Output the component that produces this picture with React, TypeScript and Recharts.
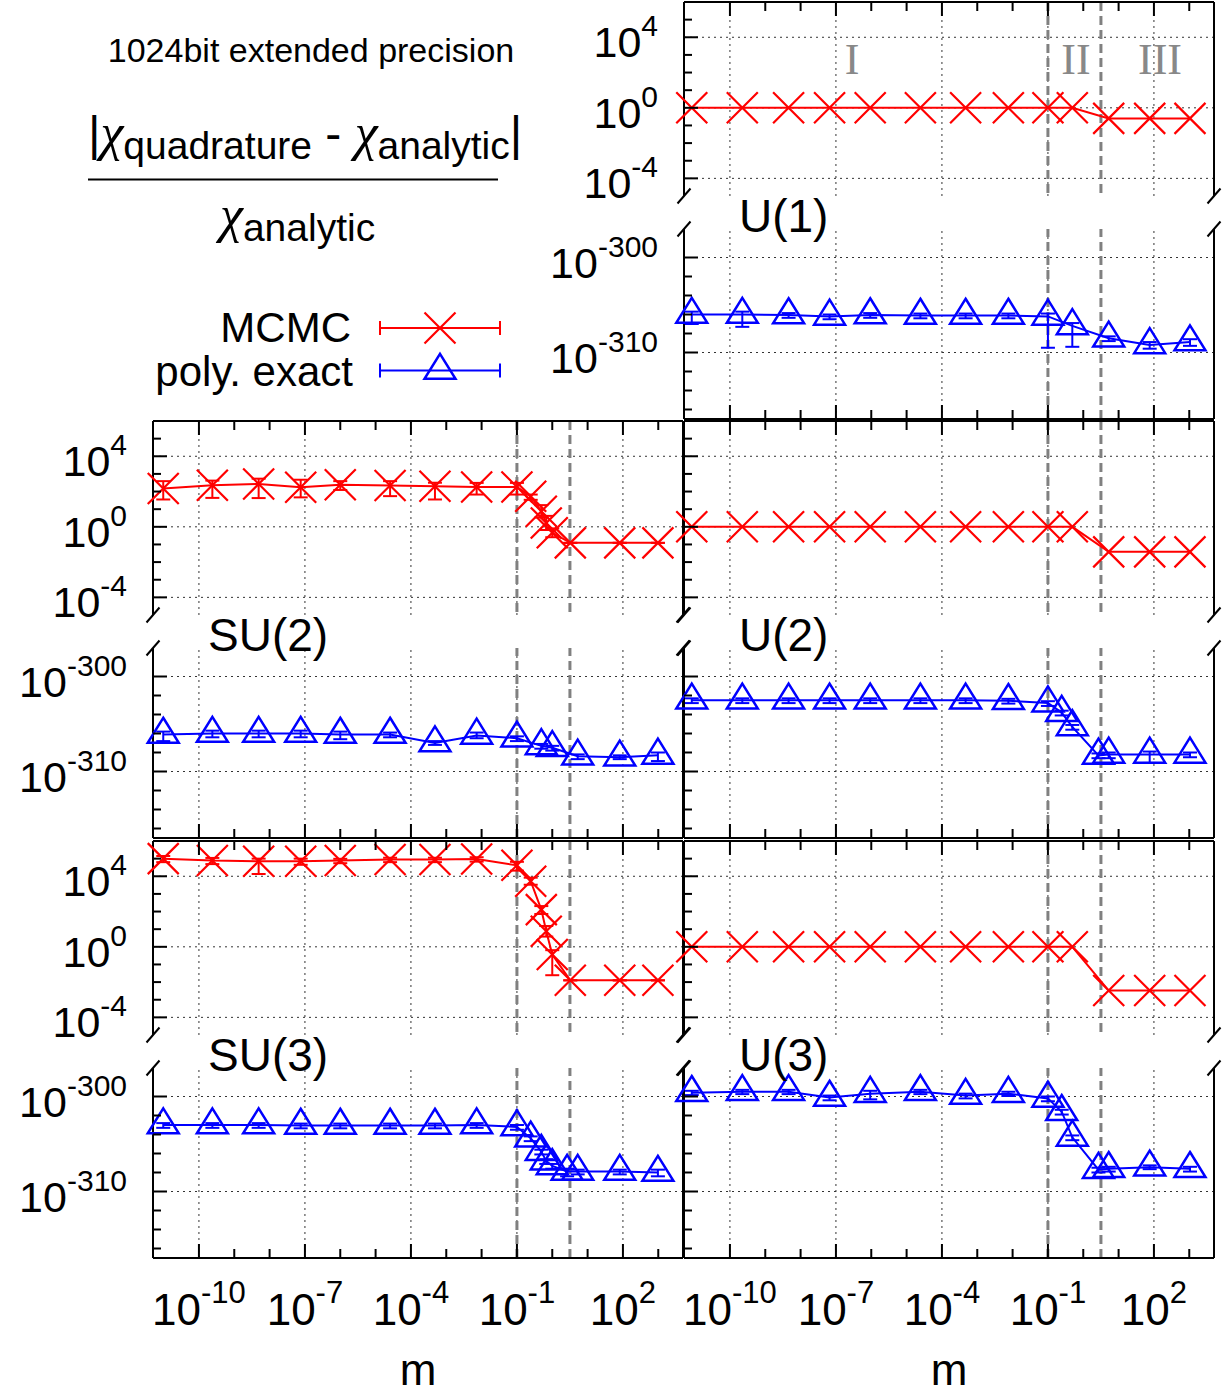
import React from "react";
import { LineChart, Line, XAxis, YAxis, ReferenceLine, ErrorBar } from "recharts";

const FONT = "'Liberation Sans', Arial, Helvetica, sans-serif";
const SERIF = "'Liberation Serif', 'Times New Roman', serif";
const RED = "#ff0000";
const BLUE = "#0000ff";
const GRAY = "#808080";

// x: log10(m)
const M_SU = [-11.01, -9.62, -8.31, -7.12, -6.0, -4.59, -3.32, -2.14, -1.0, -0.61, -0.31, -0.17, 0.0, 0.51, 1.91, 2.99];
const M_SU2_POLY = [-11.01, -9.62, -8.31, -7.12, -6.0, -4.59, -3.32, -2.14, -1.0, -0.31, 0.0, 0.72, 1.91, 2.99];
const M_SU3_POLY = [-11.01, -9.62, -8.31, -7.12, -6.0, -4.59, -3.32, -2.14, -1.0, -0.61, -0.31, -0.17, 0.0, 0.42, 0.72, 1.91, 2.99];
const M_U = [-11.08, -9.65, -8.34, -7.18, -6.03, -4.61, -3.33, -2.12, -1.0, -0.31, 0.72, 1.88, 3.02];
const M_U_POLY = [-11.08, -9.65, -8.34, -7.18, -6.03, -4.61, -3.33, -2.12, -1.0, -0.61, -0.31, 0.43, 0.72, 1.88, 3.02];

// y: log10 of relative deviation, errors as [down, up] in decades
const U1_MCMC = [0, 0, 0, 0, 0, 0, 0, 0, 0, 0, -0.6, -0.6, -0.6];
const U1_POLY = [-306.0, -306.0, -306.05, -306.2, -306.05, -306.1, -306.1, -306.1, -306.2, -307.2, -308.5, -309.2, -308.9];
const U1_POLY_ERR = [[1.0, 0.3], [1.3, 0.3], [0.3, 0.2], [0.3, 0.2], [0.3, 0.2], [0.3, 0.2], [0.3, 0.2], [0.3, 0.2], [3.3, 0.3], [2.2, 0.3], [0.3, 0.2], [0.4, 0.3], [0.4, 0.3]];

const U2_MCMC = [0, 0, 0, 0, 0, 0, 0, 0, 0, 0, -1.42, -1.42, -1.42];
const U2_POLY = [-302.5, -302.5, -302.5, -302.5, -302.5, -302.5, -302.5, -302.55, -302.8, -303.8, -305.3, -308.3, -308.2, -308.2, -308.2];
const U2_POLY_ERR = [[0.3, 0.2], [0.3, 0.2], [0.3, 0.2], [0.3, 0.2], [0.3, 0.2], [0.3, 0.2], [0.3, 0.2], [0.3, 0.2], [0.3, 0.2], [0.3, 0.2], [0.3, 0.2], [0.3, 0.2], [0.4, 0.2], [0.9, 0.3], [0.3, 0.2]];

const U3_MCMC = [0, 0, 0, 0, 0, 0, 0, 0, 0, 0, -2.48, -2.48, -2.48];
const U3_POLY = [-299.6, -299.5, -299.5, -300.1, -299.7, -299.5, -299.9, -299.7, -300.2, -301.6, -304.3, -307.7, -307.6, -307.45, -307.6];
const U3_POLY_ERR = [[0.25, 0.2], [0.25, 0.2], [0.25, 0.2], [0.3, 0.2], [0.6, 0.3], [0.25, 0.2], [0.3, 0.2], [0.25, 0.2], [0.3, 0.2], [0.3, 0.2], [0.3, 0.2], [0.3, 0.2], [0.3, 0.2], [0.2, 0.2], [0.3, 0.2]];

const SU2_MCMC = [2.17, 2.36, 2.43, 2.24, 2.39, 2.34, 2.3, 2.26, 2.26, 1.73, 0.88, 0.22, -0.34, -0.91, -0.91, -0.91];
const SU2_MCMC_ERR = [[0.62, 0.42], [0.72, 0.26], [0.8, 0.3], [0.57, 0.43], [0.3, 0.2], [0.6, 0.25], [0.75, 0.2], [0.43, 0.23], [0.43, 0.23], [0.2, 0.1], [0.35, 0.35], [0.4, 0.4], [0.25, 0.25], [0, 0], [0, 0], [0, 0]];
const SU2_POLY = [-306.1, -306.0, -306.0, -306.0, -306.1, -306.1, -307.0, -306.2, -306.5, -307.3, -307.5, -308.4, -308.5, -308.3];
const SU2_POLY_ERR = [[0.7, 0.3], [0.4, 0.3], [0.4, 0.3], [0.4, 0.3], [0.5, 0.3], [0.3, 0.2], [0.2, 0.2], [0.3, 0.3], [0.3, 0.2], [0.3, 0.2], [0.3, 0.2], [0.3, 0.2], [0.2, 0.2], [0.6, 0.3]];

const SU3_MCMC = [5.0, 4.89, 4.85, 4.85, 4.89, 4.95, 4.95, 4.98, 4.62, 3.72, 2.11, 0.88, -0.44, -1.9, -1.9, -1.9];
const SU3_MCMC_ERR = [[0.2, 0.15], [0.2, 0.15], [0.72, 0.15], [0.2, 0.15], [0.15, 0.1], [0.15, 0.1], [0.15, 0.1], [0.15, 0.1], [0.3, 0.2], [0.2, 0.2], [0.25, 0.2], [0.3, 0.3], [1.17, 0.25], [0, 0], [0, 0], [0, 0]];
const SU3_POLY = [-303.0, -303.0, -303.0, -303.05, -303.05, -303.05, -303.05, -303.0, -303.2, -304.4, -305.8, -306.8, -307.3, -307.9, -307.9, -307.9, -308.0];
const SU3_POLY_ERR = [[0.3, 0.2], [0.3, 0.2], [0.3, 0.2], [0.3, 0.2], [0.3, 0.2], [0.3, 0.2], [0.3, 0.2], [0.3, 0.2], [0.3, 0.2], [0.3, 0.2], [0.3, 0.2], [0.3, 0.2], [0.3, 0.2], [0.5, 0.3], [0.3, 0.2], [0.3, 0.2], [0.4, 0.3]];

// axes
const X_DOMAIN: [number, number] = [-11.3, 3.7];
const X_MAJOR = [-10, -7, -4, -1, 2];
const X_MINOR = [-9, -8, -6, -5, -3, -2, 0, 1, 3];
const X_TICKS = [...X_MAJOR, ...X_MINOR].sort((a, b) => a - b);
const REGION_EDGES = [-1, 0.5];

const HI_DOMAIN: [number, number] = [-5, 6];
const HI_MAJOR = [-4, 0, 4];
const HI_MINOR = [-3, -2, -1, 1, 2, 3, 5];
const LO_DOMAIN: [number, number] = [-317, -297];
const LO_MAJOR = [-310, -300];
const LO_MINOR = [-316, -314, -312, -308, -306, -304, -302];

// layout
const W = 530;
const COL_X = [153, 684];
const ROW_Y = [2, 421, 841];
const HI_H = 194;
const LO_OFF = 227;
const LO_H = 190;

const toRows = (xs: number[], ys: number[], errs?: number[][]) =>
  xs.map((x, i) => ({ x, y: ys[i], err: errs ? errs[i] : undefined }));

const crossPath = (cx: number, cy: number, h = 15.5) =>
  `M${cx - h},${cy - h}L${cx + h},${cy + h}M${cx - h},${cy + h}L${cx + h},${cy - h}`;
const triPath = (cx: number, cy: number) =>
  `M${cx},${cy - 16.7}L${cx + 15.5},${cy + 8.3}L${cx - 15.5},${cy + 8.3}Z`;

const crossDot = (p: any) => {
  const { cx, cy, index } = p;
  if (cx == null || cy == null) return <g key={`c${index}`} />;
  return <path key={`c${index}`} d={crossPath(cx, cy)} stroke={RED} strokeWidth={2.2} fill="none" />;
};
const triDot = (p: any) => {
  const { cx, cy, index } = p;
  if (cx == null || cy == null) return <g key={`t${index}`} />;
  return <path key={`t${index}`} d={triPath(cx, cy)} stroke={BLUE} strokeWidth={2.5} fill="none" />;
};

const YTick = (p: any) => {
  const { x, y, payload, side, majors, labels } = p;
  const v = payload.value;
  const major = majors.includes(v);
  const len = major ? 14 : 8;
  const dir = side === "left" ? 1 : -1;
  return (
    <g>
      <line x1={x} y1={y} x2={x + dir * len} y2={y} stroke="#000" strokeWidth={2} />
      {labels && major && side === "left" && (
        <text x={x - 26} y={y + 20} textAnchor="end" fontSize={43} fontFamily={FONT} fill="#000">
          10<tspan dy={-21} fontSize={30}>{v}</tspan>
        </text>
      )}
    </g>
  );
};

const XTick = (p: any) => {
  const { x, y, payload, side, labels } = p;
  const v = payload.value;
  const major = X_MAJOR.includes(v);
  const len = major ? 14 : 9;
  const dir = side === "top" ? 1 : -1;
  return (
    <g>
      <line x1={x} y1={y} x2={x} y2={y + dir * len} stroke="#000" strokeWidth={2} />
      {labels && major && (
        <text x={x} y={y + 67} textAnchor="middle" fontSize={44} fontFamily={FONT} fill="#000">
          10<tspan dy={-22} fontSize={31}>{v}</tspan>
        </text>
      )}
    </g>
  );
};

type SubplotProps = {
  left: number;
  top: number;
  height: number;
  domain: [number, number];
  majors: number[];
  minors: number[];
  xSide: "top" | "bottom";
  yLabels: boolean;
  xLabels: boolean;
  rows: { x: number; y: number; err?: number[] }[];
  color: string;
  dot: (p: any) => any;
};

// axes get 1px of room each so that Recharts draws them; the chart box is widened to compensate
const Subplot = ({ left, top, height, domain, majors, minors, xSide, yLabels, xLabels, rows, color, dot }: SubplotProps) => {
  const yTicks = [...majors, ...minors].sort((a, b) => a - b);
  const hasErr = rows.some((r) => r.err);
  const axisLine = { stroke: "#000", strokeWidth: 2 };
  const boxTop = xSide === "top" ? top - 1 : top;
  return (
    <div style={{ position: "absolute", left: left - 1, top: boxTop, width: W + 2, height: height + 1 }}>
      <LineChart width={W + 2} height={height + 1} margin={{ top: 0, right: 0, bottom: 0, left: 0 }}>
        <XAxis
          type="number"
          dataKey="x"
          domain={X_DOMAIN}
          ticks={X_TICKS}
          interval={0}
          orientation={xSide}
          height={1}
          tickSize={0}
          tickMargin={0}
          tickLine={false}
          axisLine={axisLine}
          tick={(p: any) => <XTick {...p} side={xSide} labels={xLabels} />}
        />
        <YAxis
          type="number"
          domain={domain}
          ticks={yTicks}
          interval={0}
          width={1}
          tickSize={0}
          tickMargin={0}
          tickLine={false}
          axisLine={axisLine}
          tick={(p: any) => <YTick {...p} side="left" majors={majors} labels={yLabels} />}
        />
        <YAxis
          yAxisId="r"
          orientation="right"
          type="number"
          domain={domain}
          ticks={yTicks}
          interval={0}
          width={1}
          tickSize={0}
          tickMargin={0}
          tickLine={false}
          axisLine={axisLine}
          tick={(p: any) => <YTick {...p} side="right" majors={majors} labels={false} />}
        />
        {X_MAJOR.map((v) => (
          <ReferenceLine key={`gx${v}`} x={v} stroke="#333" strokeWidth={1} strokeDasharray="2 4" />
        ))}
        {majors.map((v) => (
          <ReferenceLine key={`gy${v}`} y={v} stroke="#333" strokeWidth={1} strokeDasharray="2 4" />
        ))}
        {REGION_EDGES.map((v) => (
          <ReferenceLine key={`r${v}`} x={v} stroke={GRAY} strokeWidth={3} strokeDasharray="9 5" />
        ))}
        <Line
          data={rows}
          dataKey="y"
          type="linear"
          stroke={color}
          strokeWidth={2}
          dot={dot}
          activeDot={false}
          isAnimationActive={false}
        >
          {hasErr && <ErrorBar dataKey="err" width={7} stroke={color} strokeWidth={2} direction="y" isAnimationActive={false} />}
        </Line>
      </LineChart>
    </div>
  );
};

const PANELS = [
  { name: "U(1)", col: 1, row: 0, yLabels: true, hi: toRows(M_U, U1_MCMC), lo: toRows(M_U, U1_POLY, U1_POLY_ERR) },
  { name: "SU(2)", col: 0, row: 1, yLabels: true, hi: toRows(M_SU, SU2_MCMC, SU2_MCMC_ERR), lo: toRows(M_SU2_POLY, SU2_POLY, SU2_POLY_ERR) },
  { name: "U(2)", col: 1, row: 1, yLabels: false, hi: toRows(M_U, U2_MCMC), lo: toRows(M_U_POLY, U2_POLY, U2_POLY_ERR) },
  { name: "SU(3)", col: 0, row: 2, yLabels: true, hi: toRows(M_SU, SU3_MCMC, SU3_MCMC_ERR), lo: toRows(M_SU3_POLY, SU3_POLY, SU3_POLY_ERR) },
  { name: "U(3)", col: 1, row: 2, yLabels: false, hi: toRows(M_U, U3_MCMC), lo: toRows(M_U_POLY, U3_POLY, U3_POLY_ERR) },
];

const Overlay = () => {
  const breaks: React.ReactNode[] = [];
  PANELS.forEach((p) => {
    const x0 = COL_X[p.col];
    const y0 = ROW_Y[p.row];
    [x0, x0 + W].forEach((bx) => {
      [y0 + HI_H, y0 + LO_OFF].forEach((by) => {
        breaks.push(
          <line key={`b${p.name}${bx}${by}`} x1={bx - 6.5} y1={by + 7.5} x2={bx + 6.5} y2={by - 7.5} stroke="#000" strokeWidth={2} />
        );
      });
    });
  });
  return (
    <svg width={1229} height={1394} style={{ position: "absolute", left: 0, top: 0, pointerEvents: "none", overflow: "visible" }}>
      <g fontFamily={FONT} fill="#000" style={{ whiteSpace: "pre" }}>
        <text x={311} y={62} textAnchor="middle" fontSize={34}>1024bit extended precision</text>
        <text x={88} y={150} fontSize={48}>
          |<tspan fontFamily={SERIF} fontStyle="italic" fontSize={52}>χ</tspan>
          <tspan fontSize={39} dy={9}>quadrature</tspan>
          <tspan dy={-9}>{" - "}</tspan>
          <tspan fontFamily={SERIF} fontStyle="italic" fontSize={52}>χ</tspan>
          <tspan fontSize={39} dy={9}>analytic</tspan>
          <tspan dy={-9}>|</tspan>
        </text>
        <line x1={88} x2={498} y1={179.5} y2={179.5} stroke="#000" strokeWidth={2} />
        <text x={220} y={232} fontSize={48}>
          <tspan fontFamily={SERIF} fontStyle="italic" fontSize={52}>χ</tspan>
          <tspan fontSize={39} dy={9}>analytic</tspan>
        </text>

        <text x={351} y={342} textAnchor="end" fontSize={42}>MCMC</text>
        <text x={353} y={386} textAnchor="end" fontSize={42}>poly. exact</text>
      </g>
      <g stroke={RED} strokeWidth={2} fill="none">
        <line x1={380} x2={500} y1={328} y2={328} />
        <line x1={380} x2={380} y1={321} y2={335} />
        <line x1={500} x2={500} y1={321} y2={335} />
        <path d={crossPath(440, 328)} strokeWidth={2.2} />
      </g>
      <g stroke={BLUE} strokeWidth={2} fill="none">
        <line x1={380} x2={500} y1={370.5} y2={370.5} />
        <line x1={380} x2={380} y1={363.5} y2={377.5} />
        <line x1={500} x2={500} y1={363.5} y2={377.5} />
        <path d={triPath(440, 370.5)} strokeWidth={2.5} />
      </g>

      <g fontFamily={SERIF} fontSize={44} fill="#888" textAnchor="middle">
        <text x={852} y={74}>I</text>
        <text x={1076} y={74}>II</text>
        <text x={1160} y={74}>III</text>
      </g>

      <g fontFamily={FONT} fontSize={46} fill="#000">
        {PANELS.map((p) => (
          <text key={`n${p.name}`} x={COL_X[p.col] + 55} y={ROW_Y[p.row] + LO_OFF + 3}>
            {p.name}
          </text>
        ))}
      </g>

      <g fontFamily={FONT} fontSize={44} fill="#000" textAnchor="middle">
        <text x={COL_X[0] + W / 2} y={1385}>m</text>
        <text x={COL_X[1] + W / 2} y={1385}>m</text>
      </g>

      {breaks}
    </svg>
  );
};

export default function App() {
  return (
    <div style={{ position: "absolute", left: 0, top: 0, width: 1229, height: 1394, background: "#fff" }}>
      <style>{`body{margin:0} .recharts-surface{overflow:visible} .recharts-wrapper{overflow:visible}`}</style>
      {PANELS.map((p) => {
        const x0 = COL_X[p.col];
        const y0 = ROW_Y[p.row];
        return (
          <React.Fragment key={p.name}>
            <Subplot
              left={x0}
              top={y0}
              height={HI_H}
              domain={HI_DOMAIN}
              majors={HI_MAJOR}
              minors={HI_MINOR}
              xSide="top"
              yLabels={p.yLabels}
              xLabels={false}
              rows={p.hi}
              color={RED}
              dot={crossDot}
            />
            <Subplot
              left={x0}
              top={y0 + LO_OFF}
              height={LO_H}
              domain={LO_DOMAIN}
              majors={LO_MAJOR}
              minors={LO_MINOR}
              xSide="bottom"
              yLabels={p.yLabels}
              xLabels={p.row === 2}
              rows={p.lo}
              color={BLUE}
              dot={triDot}
            />
          </React.Fragment>
        );
      })}
      <Overlay />
    </div>
  );
}
